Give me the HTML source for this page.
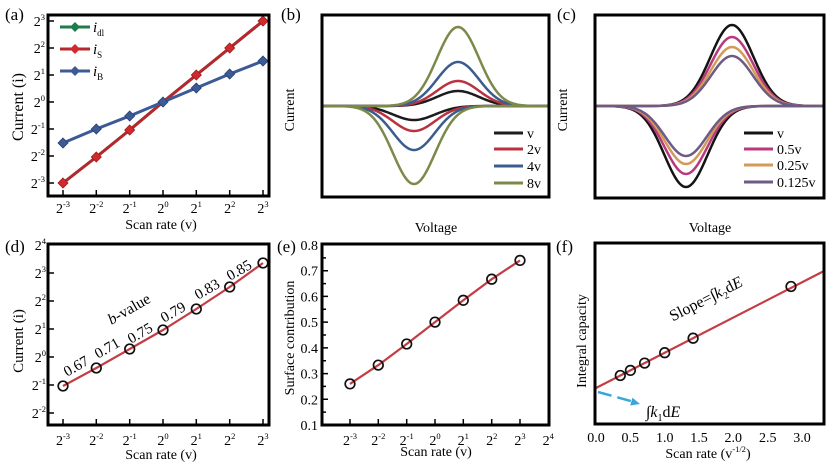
<!DOCTYPE html>
<html><head><meta charset="utf-8">
<style>
html,body{margin:0;padding:0;background:#fff;}
svg{display:block;font-family:"Liberation Serif","DejaVu Serif",serif;}
</style></head><body>
<svg id="s" width="827" height="467" viewBox="0 0 827 467" xmlns="http://www.w3.org/2000/svg">
<rect width="827" height="467" fill="#fff"/>

<!-- ================= PANEL (a) ================= -->
<text x="5" y="20" font-size="17">(a)</text>
<g font-size="14" text-anchor="end">
<text x="45" y="26">2<tspan font-size="8.5" dy="-6">3</tspan></text>
<text x="45" y="53">2<tspan font-size="8.5" dy="-6">2</tspan></text>
<text x="45" y="80">2<tspan font-size="8.5" dy="-6">1</tspan></text>
<text x="45" y="107">2<tspan font-size="8.5" dy="-6">0</tspan></text>
<text x="45" y="134">2<tspan font-size="8.5" dy="-6">-1</tspan></text>
<text x="45" y="161">2<tspan font-size="8.5" dy="-6">-2</tspan></text>
<text x="45" y="188">2<tspan font-size="8.5" dy="-6">-3</tspan></text>
</g>
<g font-size="14" text-anchor="middle">
<text x="63" y="213">2<tspan font-size="8.5" dy="-6">-3</tspan></text>
<text x="96.3" y="213">2<tspan font-size="8.5" dy="-6">-2</tspan></text>
<text x="129.7" y="213">2<tspan font-size="8.5" dy="-6">-1</tspan></text>
<text x="163" y="213">2<tspan font-size="8.5" dy="-6">0</tspan></text>
<text x="196.3" y="213">2<tspan font-size="8.5" dy="-6">1</tspan></text>
<text x="229.7" y="213">2<tspan font-size="8.5" dy="-6">2</tspan></text>
<text x="263" y="213">2<tspan font-size="8.5" dy="-6">3</tspan></text>
</g>
<text x="161" y="229" font-size="14" text-anchor="middle">Scan rate (v)</text>
<text transform="translate(23,107) rotate(-90)" font-size="16" text-anchor="middle">Current (i)</text>
<path d="M49 21h5M49 48h5M49 75h5M49 102h5M49 129h5M49 156h5M49 183h5M63 195v-5M96.3 195v-5M129.7 195v-5M163 195v-5M196.3 195v-5M229.7 195v-5M263 195v-5" stroke="#000" stroke-width="1.5"/>
<!-- series a -->
<polyline points="63,183 96.3,157 129.7,130 163,102 196.3,75 229.7,48 263,21" fill="none" stroke="#1e7b4e" stroke-width="3"/>
<polyline points="63,183 96.3,157 129.7,130 163,102 196.3,75 229.7,48 263,21" fill="none" stroke="#b5282c" stroke-width="3"/>
<polyline points="63,143 96.3,129 129.7,116 163,102 196.3,88 229.7,74 263,61" fill="none" stroke="#3c5a96" stroke-width="3"/>
<g fill="#d22a2c" stroke="#9a1c1e" stroke-width="0.8">
<path d="M63 178l5 5-5 5-5-5z"/><path d="M96.3 152l5 5-5 5-5-5z"/><path d="M129.7 125l5 5-5 5-5-5z"/><path d="M196.3 70l5 5-5 5-5-5z"/><path d="M229.7 43l5 5-5 5-5-5z"/><path d="M263 16l5 5-5 5-5-5z"/>
</g>
<g fill="#3c5a96" stroke="#2a4070" stroke-width="0.8">
<path d="M63 138l5 5-5 5-5-5z"/><path d="M96.3 124l5 5-5 5-5-5z"/><path d="M129.7 111l5 5-5 5-5-5z"/><path d="M163 97l5 5-5 5-5-5z"/><path d="M196.3 83l5 5-5 5-5-5z"/><path d="M229.7 69l5 5-5 5-5-5z"/><path d="M263 56l5 5-5 5-5-5z"/>
</g>
<!-- legend a -->
<path d="M60 27h30" stroke="#1e7b4e" stroke-width="3"/><path d="M75 22l5 5-5 5-5-5z" fill="#1e7b4e"/>
<path d="M60 49h30" stroke="#b5282c" stroke-width="3"/><path d="M75 44l5 5-5 5-5-5z" fill="#d22a2c"/>
<path d="M60 71h30" stroke="#3c5a96" stroke-width="3"/><path d="M75 66l5 5-5 5-5-5z" fill="#3c5a96"/>
<text x="93" y="32" font-size="15" font-style="italic">i<tspan font-size="9" font-style="normal" dy="4">dl</tspan></text>
<text x="93" y="54" font-size="15" font-style="italic">i<tspan font-size="9" font-style="normal" dy="4">S</tspan></text>
<text x="93" y="76" font-size="15" font-style="italic">i<tspan font-size="9" font-style="normal" dy="4">B</tspan></text>
<rect x="48" y="15" width="221" height="181" fill="none" stroke="#000" stroke-width="3"/>

<!-- ================= PANEL (b) ================= -->
<text x="281" y="20" font-size="17">(b)</text>
<text transform="translate(294,110) rotate(-90)" font-size="14" text-anchor="middle">Current</text>
<text x="436" y="232" font-size="14" text-anchor="middle">Voltage</text>
<g id="cvb" fill="none" stroke-width="2.5"></g>
<path d="M494 133h29" stroke="#1c1c1c" stroke-width="3"/>
<path d="M494 149h29" stroke="#b8333f" stroke-width="3"/>
<path d="M494 166h29" stroke="#3b5c8e" stroke-width="3"/>
<path d="M494 183h29" stroke="#7b8a4a" stroke-width="3"/>
<g font-size="14">
<text x="527" y="138">v</text>
<text x="527" y="154">2v</text>
<text x="527" y="171">4v</text>
<text x="527" y="188">8v</text>
</g>
<rect x="322" y="15" width="227" height="182" fill="none" stroke="#000" stroke-width="3"/>

<!-- ================= PANEL (c) ================= -->
<text x="557" y="20" font-size="17">(c)</text>
<text transform="translate(567,110) rotate(-90)" font-size="14" text-anchor="middle">Current</text>
<text x="710" y="232" font-size="14" text-anchor="middle">Voltage</text>
<g id="cvc" fill="none" stroke-width="2.5"></g>
<path d="M744 133h29" stroke="#141414" stroke-width="3"/>
<path d="M744 149h29" stroke="#b83a7e" stroke-width="3"/>
<path d="M744 165h29" stroke="#d49a58" stroke-width="3"/>
<path d="M744 182h29" stroke="#6d5b85" stroke-width="3"/>
<g font-size="14">
<text x="777" y="138">v</text>
<text x="777" y="154">0.5v</text>
<text x="777" y="170">0.25v</text>
<text x="777" y="187">0.125v</text>
</g>
<rect x="595" y="15" width="229" height="183" fill="none" stroke="#000" stroke-width="3"/>

<!-- ================= PANEL (d) ================= -->
<text x="5" y="252" font-size="17">(d)</text>
<g font-size="14" text-anchor="end">
<text x="46" y="250">2<tspan font-size="8.5" dy="-6">4</tspan></text>
<text x="46" y="278">2<tspan font-size="8.5" dy="-6">3</tspan></text>
<text x="46" y="306">2<tspan font-size="8.5" dy="-6">2</tspan></text>
<text x="46" y="334">2<tspan font-size="8.5" dy="-6">1</tspan></text>
<text x="46" y="362">2<tspan font-size="8.5" dy="-6">0</tspan></text>
<text x="46" y="390">2<tspan font-size="8.5" dy="-6">-1</tspan></text>
<text x="46" y="418">2<tspan font-size="8.5" dy="-6">-2</tspan></text>
</g>
<g font-size="14" text-anchor="middle">
<text x="63" y="445">2<tspan font-size="8.5" dy="-6">-3</tspan></text>
<text x="96.3" y="445">2<tspan font-size="8.5" dy="-6">-2</tspan></text>
<text x="129.7" y="445">2<tspan font-size="8.5" dy="-6">-1</tspan></text>
<text x="163" y="445">2<tspan font-size="8.5" dy="-6">0</tspan></text>
<text x="196.3" y="445">2<tspan font-size="8.5" dy="-6">1</tspan></text>
<text x="229.7" y="445">2<tspan font-size="8.5" dy="-6">2</tspan></text>
<text x="263" y="445">2<tspan font-size="8.5" dy="-6">3</tspan></text>
</g>
<text x="161" y="459" font-size="14" text-anchor="middle">Scan rate (v)</text>
<text transform="translate(23,341) rotate(-90)" font-size="15" text-anchor="middle">Current (i)</text>
<path d="M49 273h5M49 301h5M49 329h5M49 357h5M49 385h5M49 413h5M63 424v-5M96.3 424v-5M129.7 424v-5M163 424v-5M196.3 424v-5M229.7 424v-5M263 424v-5" stroke="#000" stroke-width="1.5"/>
<polyline points="63,386 96.3,368 129.7,349 163,330 196.3,309 229.7,287 263,263" fill="none" stroke="#c43c44" stroke-width="2.2"/>
<g fill="none" stroke="#111" stroke-width="1.7">
<circle cx="63" cy="386" r="4.8"/><circle cx="96.3" cy="368" r="4.8"/><circle cx="129.7" cy="349" r="4.8"/><circle cx="163" cy="330" r="4.8"/><circle cx="196.3" cy="309" r="4.8"/><circle cx="229.7" cy="287" r="4.8"/><circle cx="263" cy="263" r="4.8"/>
</g>
<g font-size="15" text-anchor="middle">
<text transform="translate(76,366) rotate(-30)" y="5">0.67</text>
<text transform="translate(107,348) rotate(-30)" y="5">0.71</text>
<text transform="translate(140,333) rotate(-30)" y="5">0.75</text>
<text transform="translate(173,312) rotate(-30)" y="5">0.79</text>
<text transform="translate(207,289) rotate(-30)" y="5">0.83</text>
<text transform="translate(239,270) rotate(-30)" y="5">0.85</text>
<text transform="translate(129,309) rotate(-30)" y="5" font-size="15.5"><tspan font-style="italic">b</tspan>-value</text>
</g>
<rect x="48" y="244" width="221" height="181" fill="none" stroke="#000" stroke-width="3"/>

<!-- ================= PANEL (e) ================= -->
<text x="277" y="252" font-size="17">(e)</text>
<g font-size="14" text-anchor="end">
<text x="318" y="250">0.8</text>
<text x="318" y="275.7">0.7</text>
<text x="318" y="301.4">0.6</text>
<text x="318" y="327.1">0.5</text>
<text x="318" y="352.9">0.4</text>
<text x="318" y="378.6">0.3</text>
<text x="318" y="404.3">0.2</text>
<text x="318" y="430">0.1</text>
</g>
<g font-size="14" text-anchor="middle">
<text x="350" y="445">2<tspan font-size="8.5" dy="-6">-3</tspan></text>
<text x="378.3" y="445">2<tspan font-size="8.5" dy="-6">-2</tspan></text>
<text x="406.7" y="445">2<tspan font-size="8.5" dy="-6">-1</tspan></text>
<text x="435" y="445">2<tspan font-size="8.5" dy="-6">0</tspan></text>
<text x="463.3" y="445">2<tspan font-size="8.5" dy="-6">1</tspan></text>
<text x="491.7" y="445">2<tspan font-size="8.5" dy="-6">2</tspan></text>
<text x="520" y="445">2<tspan font-size="8.5" dy="-6">3</tspan></text>
<text x="548.3" y="445">2<tspan font-size="8.5" dy="-6">4</tspan></text>
</g>
<text x="436" y="456" font-size="14" text-anchor="middle">Scan rate (v)</text>
<text transform="translate(294,338) rotate(-90)" font-size="14" text-anchor="middle">Surface contribution</text>
<path d="M323 270.7h5M323 296.4h5M323 322.1h5M323 347.9h5M323 373.6h5M323 399.3h5M323 257.9h3M323 283.6h3M323 309.3h3M323 335h3M323 360.7h3M323 386.4h3M323 412.1h3M350 424v-5M378.3 424v-5M406.7 424v-5M435 424v-5M463.3 424v-5M491.7 424v-5M520 424v-5" stroke="#000" stroke-width="1.5"/>
<polyline points="350,383.9 378.3,365.1 406.7,344 435,322.1 463.3,300.3 491.7,279.2 520,260.4" fill="none" stroke="#c43c44" stroke-width="2.2"/>
<g fill="none" stroke="#111" stroke-width="1.7">
<circle cx="350" cy="383.9" r="4.8"/><circle cx="378.3" cy="365.1" r="4.8"/><circle cx="406.7" cy="344" r="4.8"/><circle cx="435" cy="322.1" r="4.8"/><circle cx="463.3" cy="300.3" r="4.8"/><circle cx="491.7" cy="279.2" r="4.8"/><circle cx="520" cy="260.4" r="4.8"/>
</g>
<rect x="322" y="244" width="227" height="181" fill="none" stroke="#000" stroke-width="3"/>

<!-- ================= PANEL (f) ================= -->
<text x="556" y="252" font-size="17">(f)</text>
<g font-size="14" text-anchor="middle">
<text x="596" y="442">0.0</text>
<text x="630.3" y="442">0.5</text>
<text x="664.7" y="442">1.0</text>
<text x="699" y="442">1.5</text>
<text x="733.3" y="442">2.0</text>
<text x="767.7" y="442">2.5</text>
<text x="802" y="442">3.0</text>
</g>
<text x="708" y="458" font-size="14" text-anchor="middle">Scan rate (v<tspan font-size="8.5" dy="-6">-1/2</tspan><tspan dy="6">)</tspan></text>
<text transform="translate(586,341) rotate(-90)" font-size="14" text-anchor="middle">Integral capacity</text>
<line x1="596" y1="388" x2="824" y2="271" stroke="#c43c44" stroke-width="2.2"/>
<g fill="none" stroke="#111" stroke-width="1.7">
<circle cx="620.3" cy="375.5" r="4.8"/><circle cx="630.4" cy="370.4" r="4.8"/><circle cx="644.6" cy="363.1" r="4.8"/><circle cx="664.7" cy="352.7" r="4.8"/><circle cx="693.1" cy="338.2" r="4.8"/><circle cx="791" cy="286.5" r="4.8"/>
</g>
<text transform="translate(706,299) rotate(-27)" y="5" font-size="16" text-anchor="middle">Slope=∫<tspan font-style="italic">k</tspan><tspan font-size="10" dy="4">2</tspan><tspan dy="-4">d</tspan><tspan font-style="italic">E</tspan></text>
<path d="M598 392L632 401.4" stroke="#3aa6d8" stroke-width="2.5" stroke-dasharray="14 6" fill="none"/>
<polygon points="640,404 632.4,397.7 630.2,405.5" fill="#3aa6d8"/>
<text x="646" y="417" font-size="16">∫<tspan font-style="italic">k</tspan><tspan font-size="10" dy="4">1</tspan><tspan dy="-4">d</tspan><tspan font-style="italic">E</tspan></text>
<rect x="595" y="243" width="229" height="181" fill="none" stroke="#000" stroke-width="3"/>
</svg>
<script>
(function(){
  var NS="http://www.w3.org/2000/svg";
  function g(c,s,x){var t=(x-c)/s;return Math.exp(-0.5*t*t);}
  function cv(grp,x0,x1,base,cu,cl,sig,au,al,col){
    var d="",x;
    for(x=x0;x<=x1;x+=1){d+=(x===x0?"M":"L")+x+" "+(base-au*g(cu,sig,x)).toFixed(2);}
    for(x=x0;x<=x1;x+=1){d+=(x===x0?"M":"L")+x+" "+(base+al*g(cl,sig,x)).toFixed(2);}
    var p=document.createElementNS(NS,"path");
    p.setAttribute("d",d);p.setAttribute("stroke",col);
    grp.appendChild(p);
  }
  var b=document.getElementById("cvb");
  cv(b,323,548,106,458,414,21,15,14,"#1c1c1c");
  cv(b,323,548,106,458,414,21,25,25,"#b8333f");
  cv(b,323,548,106,458,414,21,44,44,"#3b5c8e");
  cv(b,323,548,106,458,414,21,79,78,"#7b8a4a");
  var c=document.getElementById("cvc");
  cv(c,596,823,106,732,686,21.5,81,81,"#141414");
  cv(c,596,823,106,732,686,21.3,69,68,"#b83a7e");
  cv(c,596,823,106,732,686,21.1,59,58,"#d49a58");
  cv(c,596,823,106,732,686,21,50,50,"#6d5b85");
})();
</script>
</body></html>
